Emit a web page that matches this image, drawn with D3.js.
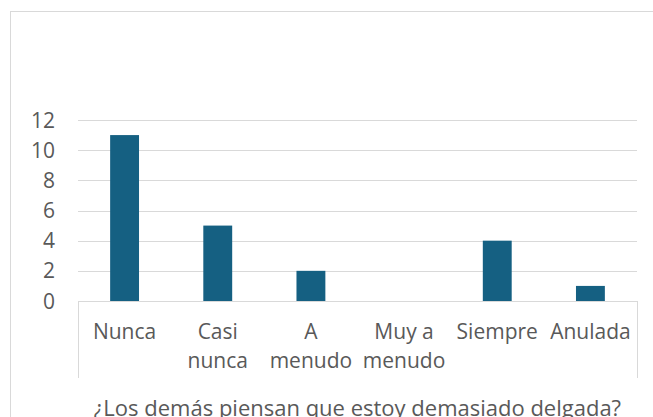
<!DOCTYPE html>
<html>
<meta charset="utf-8">
<title>Delgada</title>
<style>
    body { margin: 0; background: #fff; }
    text { font-family: "Open Sans", sans-serif; fill: #595959; }
    .grid line { stroke: #d9d9d9; stroke-width: 1px; shape-rendering: crispEdges; }
</style>
<script src="https://cdn.jsdelivr.net/npm/d3@7"></script>
<body>
<script>
    // data
    let categories = ["Nunca", "Casi nunca", "A menudo", "Muy a menudo", "Siempre", "Anulada"]
    let values = [11, 5, 2, 0, 4, 1]
    let yTicks = [0, 2, 4, 6, 8, 10, 12]
    let axisTitle = "¿Los demás piensan que estoy demasiado delgada?"

    let W = 653, H = 417
    let plotL = 78, plotR = 637, plotT = 120, plotB = 301

    let svg = d3.select("body").append("svg")
        .attr("width", W).attr("height", H)

    // chart frame (runs off the right/bottom edge)
    svg.append("rect")
        .attr("x", 10.5).attr("y", 11.5)
        .attr("width", 700).attr("height", 500)
        .attr("fill", "none").attr("stroke", "#d9d9d9")

    let x = d3.scaleBand().domain(categories).range([plotL, plotR]).paddingInner(0.69).paddingOuter(0.345)
    let xb = d3.scaleBand().domain(categories).range([plotL, plotR])
    let y = d3.scaleLinear().domain([0, 12]).range([plotB, plotT])

    // gridlines
    svg.append("g").attr("class", "grid")
        .selectAll("line").data(yTicks.filter(d => d > 0))
        .join("line")
        .attr("x1", plotL).attr("x2", plotR)
        .attr("y1", d => Math.round(y(d)) + 0.5).attr("y2", d => Math.round(y(d)) + 0.5)

    // y labels
    svg.append("g").selectAll("text").data(yTicks)
        .join("text")
        .attr("x", 55).attr("y", d => y(d))
        .attr("dy", "0.36em")
        .attr("text-anchor", "end")
        .attr("font-size", 21)
        .text(d => d)

    // bars
    svg.append("g").selectAll("rect").data(values)
        .join("rect")
        .attr("x", (d, i) => x(categories[i]))
        .attr("width", x.bandwidth())
        .attr("y", d => y(d))
        .attr("height", d => plotB - y(d))
        .attr("fill", "#156082")

    // category axis box
    let box = svg.append("g").attr("class", "grid")
    box.append("line").attr("x1", plotL).attr("x2", plotR).attr("y1", plotB + 0.5).attr("y2", plotB + 0.5)
    box.append("line").attr("x1", plotL + 0.5).attr("x2", plotL + 0.5).attr("y1", plotB).attr("y2", 378)
    box.append("line").attr("x1", plotR + 0.5).attr("x2", plotR + 0.5).attr("y1", plotB).attr("y2", 378)

    // category labels, wrapped to band width
    let labels = svg.append("g").selectAll("text").data(categories)
        .join("text")
        .attr("text-anchor", "middle")
        .attr("font-size", 21)
        .attr("x", d => xb(d) + xb.bandwidth() / 2)
        .attr("y", 339)
    labels.each(function (d) {
        let t = d3.select(this)
        let words = d.split(" "), lines = [], cur = []
        words.forEach(w => {
            cur.push(w)
            t.text(cur.join(" "))
            if (this.getComputedTextLength() > xb.bandwidth() - 4 && cur.length > 1) {
                cur.pop(); lines.push(cur.join(" ")); cur = [w]
            }
        })
        lines.push(cur.join(" "))
        t.text(null)
        lines.forEach((l, i) => {
            t.append("tspan").attr("x", t.attr("x")).attr("dy", i ? 29 : 0).text(l)
        })
    })

    svg.append("text")
        .attr("x", (plotL + plotR) / 2).attr("y", 416)
        .attr("text-anchor", "middle")
        .attr("font-size", 22)
        .text(axisTitle)
</script>
</body>
</html>
